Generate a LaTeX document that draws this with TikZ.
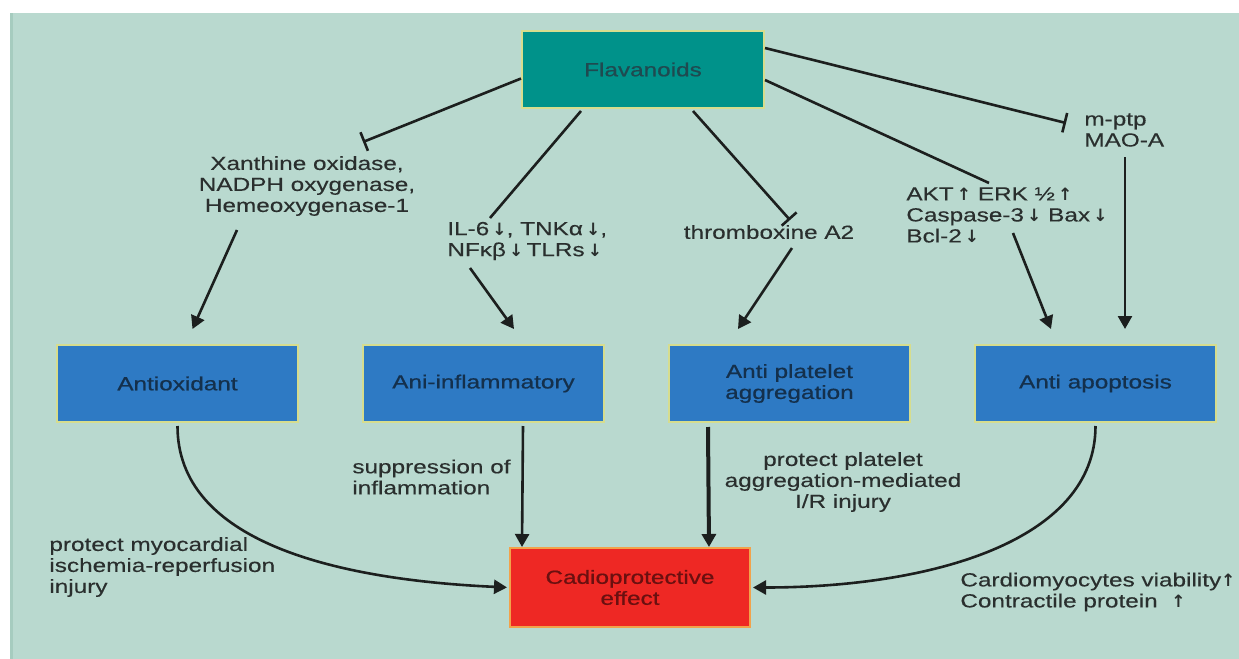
\documentclass[tikz,border=0pt]{standalone}
\usepackage{fontspec}
\setmainfont{Liberation Sans}[FakeStretch=1.28,FakeBold=0.3]
\newfontfamily\boxfont{Liberation Sans}[FakeStretch=1.28,FakeBold=0.7]
\newfontfamily\arrfont{DejaVu Sans Bold}
\newcommand{\dn}{{\arrfont\fontsize{8.5}{10}\selectfont↓}}
\newcommand{\up}{{\arrfont\fontsize{8.5}{10}\selectfont↑}}
\usetikzlibrary{calc,arrows.meta,positioning}

\definecolor{panel}{HTML}{B9D9CF}
\definecolor{paneledge}{HTML}{A6CCBF}
\definecolor{flavfill}{HTML}{00928A}
\definecolor{flavtxt}{HTML}{1F4A50}
\definecolor{boxline}{HTML}{D6DD8E}
\definecolor{efffill}{HTML}{2E7AC4}
\definecolor{efftxt}{HTML}{14304C}
\definecolor{outfill}{HTML}{EE2824}
\definecolor{outline}{HTML}{F2A24A}
\definecolor{outtxt}{HTML}{6A1010}
\definecolor{labtxt}{HTML}{2A2F2E}
\definecolor{linecol}{HTML}{1C1F1E}

\begin{document}
\begin{tikzpicture}[
  x=0.5pt,y=-0.5pt,
  every node/.style={font=\fontsize{9.5}{10.5}\selectfont,text=labtxt,inner sep=1pt},
  flavbox/.style={rectangle,draw=boxline,line width=1pt,fill=flavfill,text=flavtxt,
    font=\boxfont\fontsize{9.5}{10.5}\selectfont,minimum width=121pt,minimum height=38.5pt},
  effbox/.style={rectangle,draw=boxline,line width=1pt,fill=efffill,text=efftxt,
    font=\boxfont\fontsize{9.5}{10.5}\selectfont,minimum width=120.5pt,minimum height=38.5pt,align=center},
  outbox/.style={rectangle,draw=outline,line width=1pt,fill=outfill,text=outtxt,
    font=\boxfont\fontsize{9.5}{10.5}\selectfont,minimum width=120pt,minimum height=39.5pt,align=center},
  act/.style={draw=linecol,line width=1.3pt,-{Triangle[length=6.5pt,width=7pt]}},
  inh/.style={draw=linecol,line width=1.3pt,-{Bar[width=10pt,line width=1.3pt]}},
  lnk/.style={draw=linecol,line width=1.3pt}
]
  \useasboundingbox (0,0) rectangle (1239,659);
  \fill[panel] (10,13) rectangle (1239,659);
  \fill[paneledge] (10,13) rectangle (13,659);

  % boxes
  \node[flavbox] (flav) at (643,69.5) {Flavanoids};
  \node[effbox] (antiox) at (177.5,383.5) {Antioxidant};
  \node[effbox] (antiinf) at (483.5,383.5) {Ani-inflammatory};
  \node[effbox] (antiplt) at (789.5,383.5) {Anti platelet\\aggregation};
  \node[effbox] (antiapo) at (1095.5,383.5) {Anti apoptosis};
  \node[outbox] (cardio) at (630,587.5) {Cadioprotective\\effect};

  % labels
  \node[align=center] (xo) at (307,186) {Xanthine oxidase,\\NADPH oxygenase,\\Hemeoxygenase-1};
  \node[align=left,anchor=west] (il) at (445,241) {IL-6\,\dn, TNKα\,\dn,\\NFκβ\,\dn\,TLRs\,\dn};
  \node (tx) at (769,232) {thromboxine A2};
  \node[align=left,anchor=west] (akt) at (904,215) {AKT\,\up\ ERK ½\,\up\\Caspase-3\,\dn\ Bax\,\dn\\Bcl-2\,\dn};
  \node[align=left,anchor=west] (mptp) at (1082,130) {m-ptp\\MAO-A};
  \node[align=left,anchor=west] (supp) at (350,477) {suppression of\\inflammation};
  \node[align=left,anchor=west] (myo) at (47,567) {protect myocardial\\ischemia-reperfusion\\injury};
  \node[align=center] (plt) at (843,482) {protect platelet\\aggregation-mediated\\I/R injury};
  \node[align=left,anchor=west] (via) at (958,592) {Cardiomyocytes viability\up\\Contractile protein\ \ \up};

  % from flavanoids
  \draw[inh] ($(flav.west)+(0,9)$) -- ($(xo.center)+(56,-44)$);
  \draw[lnk] ($(flav.south)+(-62,2)$) -- ($(il.west)+(45,-23)$);
  \draw[inh] ($(flav.south)+(50,2)$) -- ($(tx.center)+(21,-12)$);
  \draw[lnk] ($(flav.east)+(0,10.5)$) -- ($(akt.west)+(85,-32)$);
  \draw[inh] ($(flav.east)+(0,-21.5)$) -- ($(mptp.west)+(-16,-7)$);

  % to the effect boxes
  \draw[act] ($(xo.center)+(-70,44)$) -- ($(antiox.north)+(15,-15)$);
  \draw[act] ($(il.west)+(25,27)$) -- ($(antiinf.north)+(30.5,-15)$);
  \draw[act] ($(tx.center)+(23,16)$) -- ($(antiplt.north)+(-51.5,-15)$);
  \draw[act] ($(akt.west)+(109,18)$) -- ($(antiapo.north)+(-44.5,-15)$);
  \draw[act] ($(mptp.west)+(43,27)$) -- ($(antiapo.north)+(29.5,-15)$);

  % to cardioprotection
  \draw[act,shorten >=1pt] ($(antiox.south)+(0,3)$) .. controls +(0,115) and +(-176,-8) .. (cardio.west);
  \draw[act] ($(antiinf.south)+(39.5,3)$) -- ($(cardio.north west)+(13,0)$);
  \draw[act,line width=2pt] ($(antiplt.south)+(-81.5,4)$) -- ($(cardio.north east)+(-42,0)$);
  \draw[act,shorten >=1pt] ($(antiapo.south)+(0,3)$) .. controls +(0,116) and +(178,0) .. (cardio.east);
\end{tikzpicture}
\end{document}
